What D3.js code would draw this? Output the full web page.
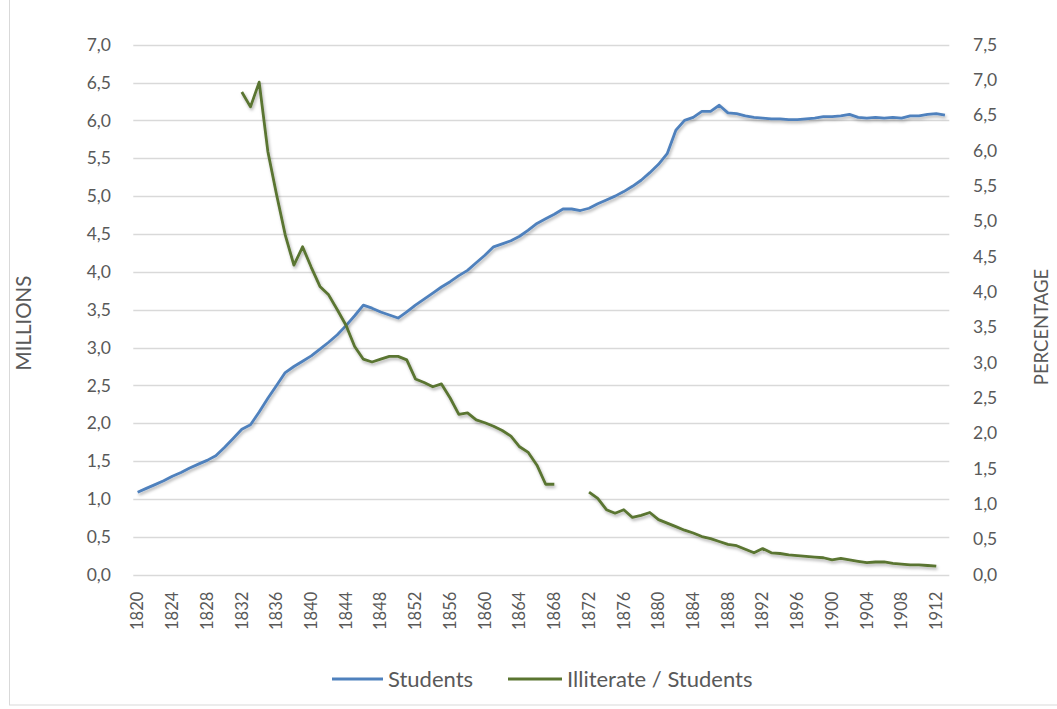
<!DOCTYPE html>
<html>
<head>
<meta charset="utf-8">
<script src="https://cdn.jsdelivr.net/npm/d3@7"></script>
<style>
  html, body { margin: 0; padding: 0; background: #fff; }
  svg { display: block; font-family: Lato, "Open Sans", sans-serif; }
</style>
</head>
<body>
<svg id="chart" width="1057" height="709"></svg>
<script>
// ---- DATA ----
const years = d3.range(1820, 1914);
const students = [
  1.09, 1.14, 1.19, 1.24, 1.30, 1.35, 1.41, 1.46, 1.51, 1.57,
  1.68, 1.80, 1.92, 1.98, 2.15, 2.33, 2.50, 2.67, 2.75, 2.82,
  2.89, 2.98, 3.07, 3.17, 3.29, 3.42, 3.56, 3.52, 3.47, 3.43,
  3.39, 3.47, 3.56, 3.64, 3.72, 3.80, 3.87, 3.95, 4.02, 4.12,
  4.22, 4.33, 4.37, 4.41, 4.47, 4.55, 4.64, 4.70, 4.76, 4.83,
  4.83, 4.81, 4.84, 4.90, 4.95, 5.00, 5.06, 5.13, 5.21, 5.31,
  5.42, 5.56, 5.87, 6.00, 6.04, 6.12, 6.12, 6.20, 6.10, 6.09,
  6.06, 6.04, 6.03, 6.02, 6.02, 6.01, 6.01, 6.02, 6.03, 6.05,
  6.05, 6.06, 6.08, 6.04, 6.03, 6.04, 6.03, 6.04, 6.03, 6.06,
  6.06, 6.08, 6.09, 6.07
];
const illiterateRatio = [
  null, null, null, null, null, null, null, null, null, null,
  null, null, 6.83, 6.62, 6.97, 5.99, 5.38, 4.81, 4.38, 4.64,
  4.35, 4.08, 3.96, 3.75, 3.53, 3.23, 3.05, 3.01, 3.05, 3.09,
  3.09, 3.04, 2.77, 2.72, 2.66, 2.70, 2.50, 2.27, 2.29, 2.19,
  2.15, 2.10, 2.04, 1.96, 1.81, 1.73, 1.55, 1.28, 1.28, null,
  null, null, 1.17, 1.08, 0.92, 0.87, 0.92, 0.81, 0.84, 0.88,
  0.78, 0.73, 0.68, 0.63, 0.59, 0.54, 0.51, 0.47, 0.43, 0.41,
  0.36, 0.31, 0.37, 0.31, 0.30, 0.28, 0.27, 0.26, 0.25, 0.24,
  0.21, 0.23, 0.21, 0.19, 0.17, 0.18, 0.18, 0.16, 0.15, 0.14,
  0.14, 0.13, 0.12, null
];
const leftTicks = d3.range(0, 7.01, 0.5);
const rightTicks = d3.range(0, 7.51, 0.5);
const xTickLabels = d3.range(1820, 1914, 4);
const seriesNames = ["Students", "Illiterate / Students"];
const seriesColors = ["#4F81BD", "#5A7530"];
const axisTitles = ["MILLIONS", "PERCENTAGE"];

// ---- LAYOUT ----
const svg = d3.select("#chart");
const plot = { left: 133.3, right: 949.3, top: 44.7, bottom: 574.7 };
const textColor = "#595959";
const fmt = d3.formatLocale({ decimal: ",", thousands: ".", grouping: [3], currency: ["", ""] }).format(".1f");

const x = d3.scaleBand().domain(years).range([plot.left, plot.right]).padding(0);
const cx = yr => x(yr) + x.bandwidth() / 2;
const yL = d3.scaleLinear().domain([0, 7]).range([plot.bottom, plot.top]);
const yR = d3.scaleLinear().domain([0, 7.5]).range([plot.bottom, plot.top]);

// outer border
svg.append("rect").attr("x", 9.5).attr("y", -2).attr("width", 1100).attr("height", 707)
  .attr("fill", "none").attr("stroke", "#d9d9d9").attr("stroke-width", 1);

// shadow filter
const defs = svg.append("defs");
const f = defs.append("filter").attr("id", "shadow").attr("x", "-5%").attr("y", "-5%").attr("width", "110%").attr("height", "115%");
f.append("feDropShadow").attr("dx", 1.2).attr("dy", 2.2).attr("stdDeviation", 1.4)
  .attr("flood-color", "#000").attr("flood-opacity", 0.3);

// gridlines
svg.append("g").selectAll("line").data(leftTicks).join("line")
  .attr("x1", plot.left).attr("x2", plot.right)
  .attr("y1", d => Math.round(yL(d)) + 0.5).attr("y2", d => Math.round(yL(d)) + 0.5)
  .attr("stroke", "#d9d9d9").attr("stroke-width", 1.3);

// left axis labels
const axL = d3.axisLeft(yL).tickValues(leftTicks).tickFormat(fmt).tickSize(0).tickPadding(0);
const gL = svg.append("g").attr("transform", `translate(111,0)`).call(axL);
gL.select(".domain").remove();
gL.selectAll("text").attr("fill", textColor).style("font-size", "17.5px").style("font-family", "Lato");

// right axis labels
const axR = d3.axisRight(yR).tickValues(rightTicks).tickFormat(fmt).tickSize(0).tickPadding(0);
const gR = svg.append("g").attr("transform", `translate(973,0)`).call(axR);
gR.select(".domain").remove();
gR.selectAll("text").attr("fill", textColor).style("font-size", "17.5px").style("font-family", "Lato");

// x axis labels
const axX = d3.axisBottom(x).tickValues(xTickLabels).tickSize(0).tickPadding(0);
const gX = svg.append("g").attr("transform", `translate(0,${plot.bottom})`).call(axX);
gX.select(".domain").remove();
gX.selectAll("text")
  .attr("fill", textColor).style("font-size", "16.5px").style("font-family", "Lato")
  .attr("text-anchor", "end").attr("dy", "0.35em")
  .attr("transform", "translate(0,17) rotate(-90)").attr("x", 0).attr("y", 0);

// axis titles
svg.append("text").attr("transform", `translate(24,323) rotate(-90)`)
  .attr("text-anchor", "middle").attr("dy", "0.35em")
  .attr("fill", textColor).style("font-size", "20.5px").text(axisTitles[0]);
svg.append("text").attr("transform", `translate(1042,327) rotate(-90)`)
  .attr("text-anchor", "middle").attr("dy", "0.35em")
  .attr("fill", textColor).style("font-size", "18.5px").text(axisTitles[1]);

// lines
const lineS = d3.line().x((d, i) => cx(years[i])).y(d => yL(d));
const lineI = d3.line().defined(d => d != null).x((d, i) => cx(years[i])).y(d => yR(d));
svg.append("path").datum(students).attr("d", lineS)
  .attr("fill", "none").attr("stroke", seriesColors[0]).attr("stroke-width", 2.8)
  .attr("stroke-linejoin", "round").attr("filter", "url(#shadow)");
svg.append("path").datum(illiterateRatio).attr("d", lineI)
  .attr("fill", "none").attr("stroke", seriesColors[1]).attr("stroke-width", 2.8)
  .attr("stroke-linejoin", "round").attr("filter", "url(#shadow)");

// legend
const legendY = 679;
const legendItems = [
  { x1: 332, x2: 383, tx: 388 },
  { x1: 508, x2: 562, tx: 567 }
];
const lg = svg.append("g");
legendItems.forEach((it, i) => {
  lg.append("line").attr("x1", it.x1).attr("x2", it.x2).attr("y1", legendY).attr("y2", legendY)
    .attr("stroke", seriesColors[i]).attr("stroke-width", 2.8);
  lg.append("text").attr("x", it.tx).attr("y", legendY).attr("dy", "0.35em")
    .attr("fill", textColor).style("font-size", "22px").text(seriesNames[i]);
});
</script>
</body>
</html>
